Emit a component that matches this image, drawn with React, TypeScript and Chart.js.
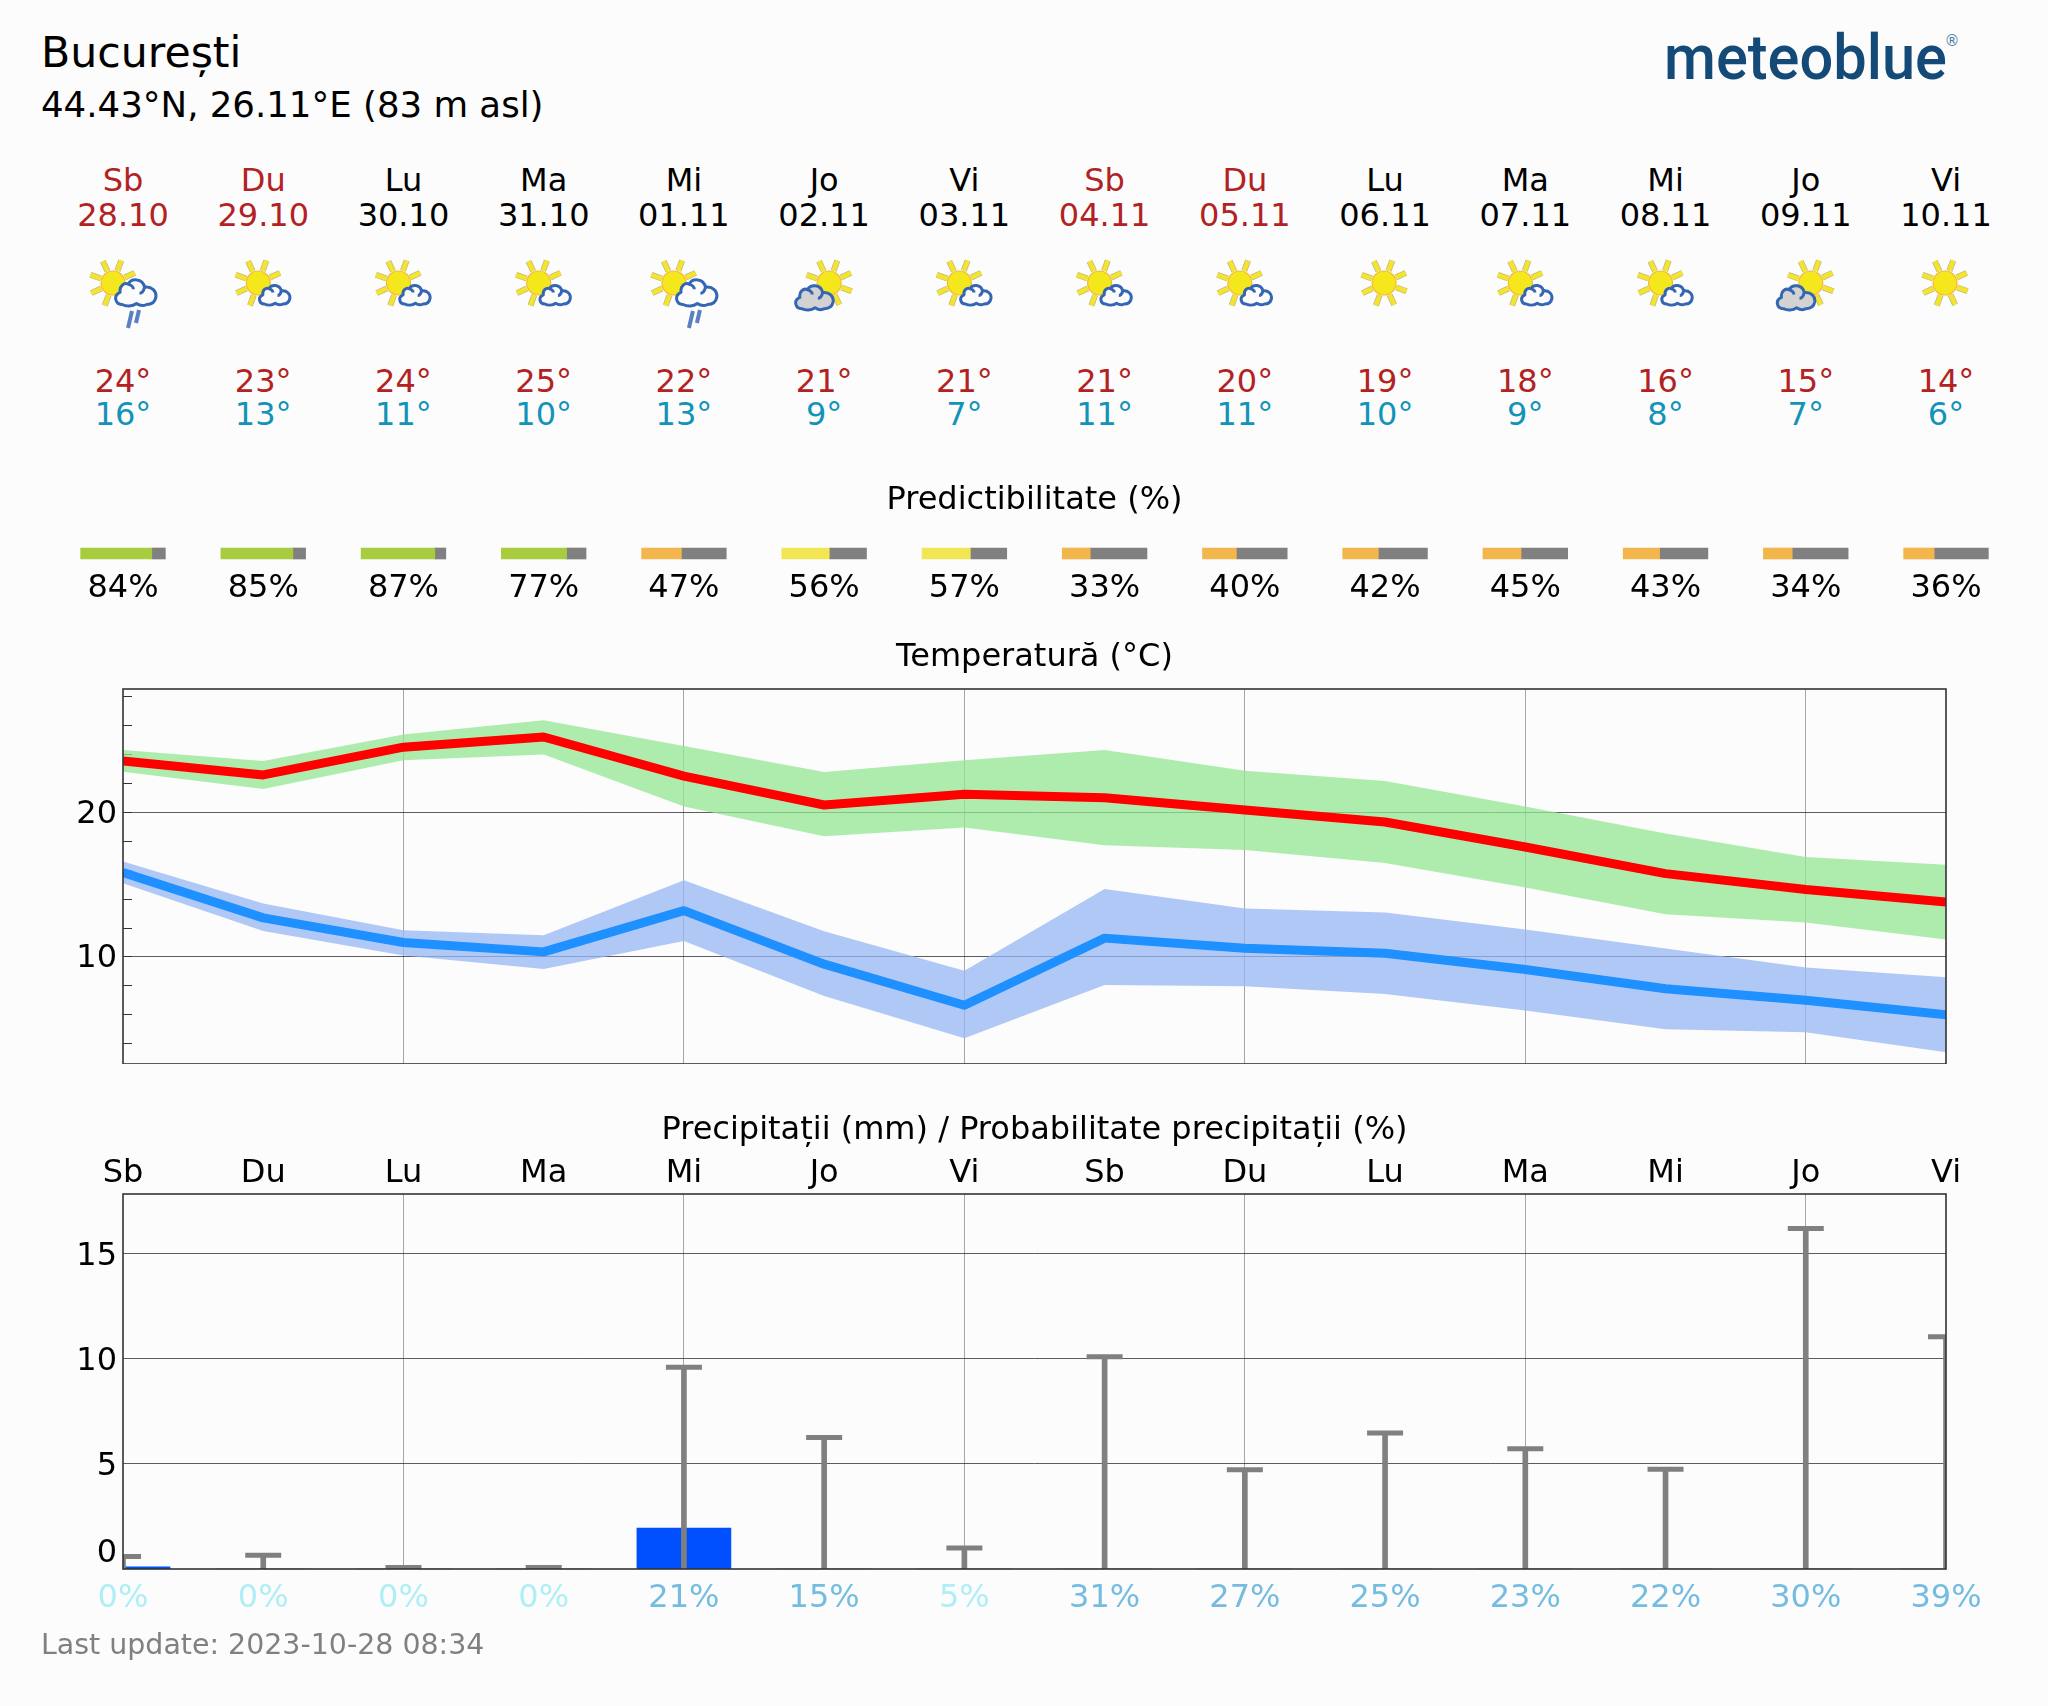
import React, { useEffect, useRef } from "react";
import { Chart, registerables } from "chart.js";

Chart.register(...registerables);

const FONT = '"DejaVu Sans"';
const days = ["Sb", "Du", "Lu", "Ma", "Mi", "Jo", "Vi", "Sb", "Du", "Lu", "Ma", "Mi", "Jo", "Vi"];
const dates = ["28.10", "29.10", "30.10", "31.10", "01.11", "02.11", "03.11", "04.11", "05.11", "06.11", "07.11", "08.11", "09.11", "10.11"];
const weekend = [true, true, false, false, false, false, false, true, true, false, false, false, false, false];
const icons = ["rain", "small", "small", "small", "rain", "grey", "small", "small", "small", "sun", "small", "small", "grey", "sun"];
const highLabels = [24, 23, 24, 25, 22, 21, 21, 21, 20, 19, 18, 16, 15, 14];
const lowLabels = [16, 13, 11, 10, 13, 9, 7, 11, 11, 10, 9, 8, 7, 6];
const predictability = [84, 85, 87, 77, 47, 56, 57, 33, 40, 42, 45, 43, 34, 36];

const tempMax = [23.55, 22.58, 24.5, 25.2, 22.5, 20.5, 21.25, 21.0, 20.15, 19.33, 17.6, 15.76, 14.66, 13.8];
const tempMaxUpper = [24.3, 23.55, 25.37, 26.36, 24.58, 22.78, 23.6, 24.3, 22.87, 22.16, 20.4, 18.53, 16.9, 16.38];
const tempMaxLower = [22.8, 21.6, 23.6, 24.0, 20.4, 18.35, 18.94, 17.72, 17.4, 16.5, 14.8, 12.95, 12.38, 11.2];
const tempMin = [15.83, 12.7, 11.0, 10.35, 13.2, 9.5, 6.66, 11.3, 10.6, 10.25, 9.13, 7.8, 7.0, 6.0];
const tempMinUpper = [16.6, 13.7, 11.85, 11.5, 15.3, 11.77, 9.05, 14.7, 13.34, 13.07, 11.9, 10.58, 9.27, 8.6];
const tempMinLower = [15.1, 11.8, 10.1, 9.17, 11.1, 7.3, 4.38, 8.06, 7.97, 7.43, 6.3, 5.0, 4.8, 3.42];
const tempTicks = [4, 6, 8, 10, 12, 14, 16, 18, 20, 22, 24, 26, 28];

const precip = [0.1, 0, 0, 0, 1.95, 0, 0, 0, 0, 0, 0, 0, 0, 0];
const precipHigh = [0.6, 0.66, 0.07, 0.07, 9.6, 6.25, 1.0, 10.1, 4.72, 6.47, 5.72, 4.75, 16.2, 11.05];
const precipProb = [0, 0, 0, 0, 21, 15, 5, 31, 27, 25, 23, 22, 30, 39];
const precipTicks = [0.88, 5, 10, 15];

const PLOT_LEFT = 123;
const PLOT_RIGHT = 1946;
const CANVAS_W = PLOT_LEFT + PLOT_RIGHT;
const STEP = (PLOT_RIGHT - PLOT_LEFT) / 13;
const GREY_GRID = "rgba(110,110,110,0.6)";
const DARK_GRID = "rgba(40,40,40,0.75)";
const LABEL_SIZE = 32;

const framePlugin = {
  id: "frame",
  afterLayout(chart: any) {
    // The y axis takes no room in the layout; its labels sit in the left padding.
    chart.scales.y.left = 0;
  },
  afterDatasetsDraw(chart: any) {
    const { ctx, chartArea: a } = chart;
    ctx.save();
    ctx.strokeStyle = "#333";
    ctx.lineWidth = 1.6;
    ctx.strokeRect(a.left, a.top, a.right - a.left, a.bottom - a.top);
    ctx.restore();
  },
};

const zeroPad = (scale: any) => {
  scale.paddingLeft = 0;
  scale.paddingRight = 0;
  scale.paddingTop = 0;
  scale.paddingBottom = 0;
};

function useChart(make: (c: HTMLCanvasElement) => Chart) {
  const ref = useRef<HTMLCanvasElement | null>(null);
  useEffect(() => {
    const ch = make(ref.current as HTMLCanvasElement);
    return () => ch.destroy();
  }, []);
  return ref;
}

const baseOptions = {
  animation: false as const,
  responsive: false,
  events: [] as any[],
};

const sidePadding = { left: PLOT_LEFT, right: CANVAS_W - PLOT_RIGHT, top: 0, bottom: 0 };

function predictabilityColor(p: number) {
  if (p >= 70) return "#a8cc3e";
  if (p >= 50) return "#f3e655";
  return "#f2b64c";
}

function PredictChart() {
  const ref = useChart((canvas) => {
    const half = 0.302;
    const full = half * 2;
    return new Chart(canvas, {
      type: "bar",
      data: {
        labels: ["p"],
        datasets: [
          {
            data: predictability.map((p, i) => ({ x: [i - half, i - half + (full * p) / 100], y: "p" })),
            backgroundColor: predictability.map(predictabilityColor),
            barPercentage: 1,
            categoryPercentage: 1,
            grouped: false,
            clip: false,
          },
          {
            data: predictability.map((p, i) => ({ x: [i - half + (full * p) / 100, i + half], y: "p" })),
            backgroundColor: "#808080",
            barPercentage: 1,
            categoryPercentage: 1,
            grouped: false,
            clip: false,
          },
        ] as any,
      },
      options: {
        ...baseOptions,
        indexAxis: "y",
        layout: { padding: sidePadding },
        plugins: {
          legend: { display: false },
          tooltip: { enabled: false },
          title: {
            display: true,
            text: "Predictibilitate (%)",
            color: "#000",
            font: { family: FONT, size: LABEL_SIZE, weight: "normal" },
            padding: { top: 11, bottom: 28.6 },
          },
        },
        scales: {
          y: { type: "category", display: false },
          x: {
            type: "linear",
            min: 0,
            max: 13,
            afterBuildTicks: (s: any) => {
              s.ticks = predictability.map((_, i) => ({ value: i }));
            },
            afterFit: (s: any) => {
              zeroPad(s);
              s.height = 46;
            },
            grid: { display: false, drawTicks: false },
            border: { display: false },
            ticks: {
              autoSkip: false,
              maxRotation: 0,
              padding: 10.5,
              color: "#000",
              font: { family: FONT, size: LABEL_SIZE },
              callback: (v: any) => `${predictability[Number(v)]}%`,
            },
          },
        },
      } as any,
    });
  });
  return <canvas ref={ref} width={CANVAS_W} height={135} style={{ position: "absolute", left: 0, top: 470 }} />;
}

function TempChart() {
  const ref = useChart((canvas) => {
    const band = (data: number[], color: string) => ({
      type: "line",
      data,
      borderWidth: 0,
      pointRadius: 0,
      tension: 0,
      backgroundColor: color,
      fill: "+1",
      order: 5,
    });
    const lower = (data: number[]) => ({
      type: "line",
      data,
      borderWidth: 0,
      pointRadius: 0,
      tension: 0,
      fill: false,
      order: 5,
    });
    const line = (data: number[], color: string, order: number) => ({
      type: "line",
      data,
      borderColor: color,
      borderWidth: 9,
      pointRadius: 0,
      tension: 0,
      fill: false,
      borderJoinStyle: "round",
      order,
      clip: 0,
    });
    return new Chart(canvas, {
      type: "line",
      data: {
        labels: days,
        datasets: [
          band(tempMaxUpper, "rgba(148,231,148,0.75)"),
          lower(tempMaxLower),
          band(tempMinUpper, "rgba(151,183,243,0.75)"),
          lower(tempMinLower),
          line(tempMin, "#1e90ff", 2),
          line(tempMax, "#ff0000", 1),
        ] as any,
      },
      options: {
        ...baseOptions,
        layout: { padding: sidePadding },
        plugins: {
          legend: { display: false },
          tooltip: { enabled: false },
          title: {
            display: true,
            text: "Temperatură (°C)",
            color: "#000",
            font: { family: FONT, size: LABEL_SIZE, weight: "normal" },
            padding: { top: 8.5, bottom: 12.1 },
          },
        },
        scales: {
          x: {
            type: "category",
            offset: false,
            afterFit: (s: any) => {
              zeroPad(s);
              s.height = 0;
            },
            ticks: { display: false },
            border: { display: false },
            grid: {
              drawTicks: false,
              lineWidth: 1,
              color: (c: any) => (c.index > 0 && c.index < 13 && c.index % 2 === 0 ? GREY_GRID : "transparent"),
            },
          },
          y: {
            type: "linear",
            min: 2.6,
            max: 28.52,
            afterBuildTicks: (s: any) => {
              s.ticks = tempTicks.map((value) => ({ value }));
            },
            afterFit: (s: any) => {
              zeroPad(s);
              s.width = 0;
            },
            border: { display: false },
            ticks: {
              autoSkip: false,
              padding: 15,
              labelOffset: 2,
              color: "#000",
              font: { family: FONT, size: LABEL_SIZE },
              callback: (v: any) => (v === 10 || v === 20 ? String(v) : ""),
            },
            grid: {
              tickLength: -9,
              tickColor: "#333",
              lineWidth: 1,
              color: (c: any) => (c.tick && c.tick.value % 10 === 0 ? DARK_GRID : "transparent"),
            },
          },
        },
      } as any,
      plugins: [framePlugin],
    });
  });
  return <canvas ref={ref} width={CANVAS_W} height={434} style={{ position: "absolute", left: 0, top: 630 }} />;
}

function PrecipChart() {
  const ref = useChart((canvas) => {
    return new Chart(canvas, {
      type: "bar",
      data: {
        labels: days,
        datasets: [
          {
            type: "line",
            data: precipHigh,
            showLine: false,
            pointStyle: "line",
            pointRadius: 18,
            pointBorderWidth: 5,
            pointBorderColor: "#808080",
            borderColor: "#808080",
            order: 1,
            clip: 0,
          },
          {
            type: "bar",
            data: precipHigh,
            backgroundColor: "#808080",
            barThickness: 5,
            grouped: false,
            order: 2,
            clip: 0,
          },
          {
            type: "bar",
            data: precip,
            backgroundColor: "#0050ff",
            barThickness: 94,
            grouped: false,
            order: 3,
            clip: 0,
          },
        ] as any,
      },
      options: {
        ...baseOptions,
        layout: { padding: sidePadding },
        plugins: {
          legend: { display: false },
          tooltip: { enabled: false },
          title: {
            display: true,
            text: "Precipitații (mm) / Probabilitate precipitații (%)",
            color: "#000",
            font: { family: FONT, size: LABEL_SIZE, weight: "normal" },
            padding: { top: 11, bottom: 0 },
          },
        },
        scales: {
          x: {
            type: "category",
            position: "top",
            offset: false,
            afterFit: (s: any) => {
              zeroPad(s);
              s.height = 44.6;
            },
            border: { display: false },
            grid: {
              offset: false,
              drawTicks: false,
              lineWidth: 1,
              color: (c: any) => (c.index > 0 && c.index < 13 && c.index % 2 === 0 ? GREY_GRID : "transparent"),
            },
            ticks: {
              autoSkip: false,
              maxRotation: 0,
              padding: 1,
              color: "#000",
              font: { family: FONT, size: LABEL_SIZE },
            },
          },
          x2: {
            type: "category",
            position: "bottom",
            offset: false,
            labels: precipProb.map((p) => `${p}%`),
            afterFit: (s: any) => {
              zeroPad(s);
              s.height = 51;
            },
            border: { display: false },
            grid: { display: false, drawTicks: false },
            ticks: {
              autoSkip: false,
              maxRotation: 0,
              padding: 10.5,
              font: { family: FONT, size: LABEL_SIZE },
              color: (c: any) => (precipProb[c.index] > 5 ? "#74bce0" : "#aeeef5"),
            },
          },
          y: {
            type: "linear",
            min: 0,
            max: 17.84,
            afterBuildTicks: (s: any) => {
              s.ticks = precipTicks.map((value) => ({ value }));
            },
            afterFit: (s: any) => {
              zeroPad(s);
              s.width = 0;
            },
            border: { display: false },
            grid: {
              drawTicks: false,
              lineWidth: 1,
              color: (c: any) => (c.tick && c.tick.value >= 5 ? DARK_GRID : "transparent"),
            },
            ticks: {
              autoSkip: false,
              padding: 6,
              labelOffset: 3,
              color: "#000",
              font: { family: FONT, size: LABEL_SIZE },
              callback: (v: any) => (v < 1 ? "0" : String(v)),
            },
          },
        },
      } as any,
      plugins: [framePlugin],
    });
  });
  return <canvas ref={ref} width={CANVAS_W} height={520} style={{ position: "absolute", left: 0, top: 1100 }} />;
}

function Sun({ cx, cy }: { cx: number; cy: number }) {
  const angles = [-70, -25, 20, 65, 110, 155, 200, 245];
  return (
    <g>
      {angles.map((a) => {
        const r = (a * Math.PI) / 180;
        const p = [cx + 13 * Math.cos(r), cy + 13 * Math.sin(r), cx + 24 * Math.cos(r), cy + 24 * Math.sin(r)];
        return (
          <g key={a}>
            <line x1={p[0]} y1={p[1]} x2={p[2]} y2={p[3]} stroke="#b9b78a" strokeWidth={6} />
            <line x1={p[0]} y1={p[1]} x2={p[2]} y2={p[3]} stroke="#f4e42c" strokeWidth={4.5} />
          </g>
        );
      })}
      <circle cx={cx} cy={cy} r={12} fill="#f4e81c" stroke="#f6b73c" strokeWidth={1.2} />
    </g>
  );
}

function Cloud({ x, y, s, fill }: { x: number; y: number; s: number; fill: string }) {
  return (
    <g transform={`translate(${x} ${y}) scale(${s})`} fill={fill} stroke="#3566b4" strokeWidth={3 / s} strokeLinejoin="round">
      <path d="M8 26 C1 26 -1 17 6 14 C5 8 10 4 14 6 C17 0 28 0 30 9 C37 8 42 13 41 19 C40 24 36 26 32 26 C28 28 25 27 22 25 C18 28 12 28 8 26 Z" />
      <path d="M14 6 C17 7 19 9 19 11 M30 9 C29 13 27 15 25 15" fill="none" />
    </g>
  );
}

function WeatherIcon({ kind, cx }: { kind: string; cx: number }) {
  const sunX = kind === "rain" ? cx - 10 : kind === "grey" ? cx + 5 : kind === "small" ? cx - 5 : cx - 1;
  return (
    <g style={{ filter: "blur(0.4px)" }}>
      <Sun cx={sunX} cy={283} />
      {kind === "small" && <Cloud x={cx - 5} y={284} s={0.77} fill="#fcfcfc" />}
      {kind === "rain" && <Cloud x={cx - 9} y={278} s={1.02} fill="#fcfcfc" />}
      {kind === "grey" && <Cloud x={cx - 30} y={284} s={0.95} fill="#d2d2d2" />}
      {kind === "rain" && (
        <g stroke="#5a80c4" strokeWidth={4}>
          <line x1={cx + 9} y1={311} x2={cx + 5} y2={328} />
          <line x1={cx + 16} y1={310} x2={cx + 13} y2={323} />
        </g>
      )}
    </g>
  );
}

function Text({ x, y, size, color = "#000", anchor = "center", children }: any) {
  return (
    <div
      style={{
        position: "absolute",
        left: anchor === "center" ? x - 200 : x,
        top: y - size,
        width: anchor === "center" ? 400 : undefined,
        height: size * 2,
        lineHeight: `${size * 2}px`,
        fontSize: size,
        color,
        textAlign: anchor === "center" ? "center" : "left",
        whiteSpace: "nowrap",
      }}
    >
      {children}
    </div>
  );
}

export default function App() {
  const centers = days.map((_, i) => PLOT_LEFT + i * STEP);
  return (
    <div
      style={{
        position: "absolute",
        left: 0,
        top: 0,
        width: 2048,
        height: 1706,
        overflow: "hidden",
        background: "#fcfcfc",
        fontFamily: FONT,
      }}
    >
      <Text x={41} y={53} size={42.67} anchor="left">București</Text>
      <Text x={41} y={105} size={35.56} anchor="left">44.43°N, 26.11°E (83 m asl)</Text>
      <svg width={2048} height={130} style={{ position: "absolute", left: 0, top: 0 }}>
        <text x={1664} y={79} fontFamily="Roboto" fontWeight={500} fontSize={63} fill="#134a78" textLength={283} lengthAdjust="spacingAndGlyphs">
          meteoblue
        </text>
        <text x={1952} y={46} fontFamily={FONT} fontSize={15} fill="#4f7ca8" textAnchor="middle">®</text>
      </svg>
      {centers.map((x, i) => {
        const c = weekend[i] ? "#b22222" : "#000";
        return (
          <React.Fragment key={i}>
            <Text x={x} y={180} size={LABEL_SIZE} color={c}>{days[i]}</Text>
            <Text x={x} y={215} size={LABEL_SIZE} color={c}>{dates[i]}</Text>
            <Text x={x} y={381} size={LABEL_SIZE} color="#b22222">{highLabels[i]}°</Text>
            <Text x={x} y={414} size={LABEL_SIZE} color="#1293b8">{lowLabels[i]}°</Text>
          </React.Fragment>
        );
      })}
      <svg width={2048} height={120} viewBox="0 240 2048 120" style={{ position: "absolute", left: 0, top: 240 }}>
        {centers.map((x, i) => (
          <WeatherIcon key={i} kind={icons[i]} cx={x} />
        ))}
      </svg>
      <PredictChart />
      <TempChart />
      <PrecipChart />
      <Text x={41} y={1645} size={28.44} color="#808080" anchor="left">Last update: 2023-10-28 08:34</Text>
    </div>
  );
}
